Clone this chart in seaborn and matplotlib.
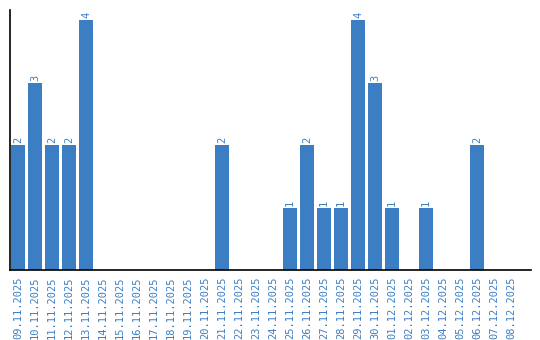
import matplotlib
matplotlib.use("Agg")
import matplotlib.pyplot as plt
import seaborn as sns
import pandas as pd

dates = ["09.11.2025", "10.11.2025", "11.11.2025", "12.11.2025", "13.11.2025",
         "14.11.2025", "15.11.2025", "16.11.2025", "17.11.2025", "18.11.2025",
         "19.11.2025", "20.11.2025", "21.11.2025", "22.11.2025", "23.11.2025",
         "24.11.2025", "25.11.2025", "26.11.2025", "27.11.2025", "28.11.2025",
         "29.11.2025", "30.11.2025", "01.12.2025", "02.12.2025", "03.12.2025",
         "04.12.2025", "05.12.2025", "06.12.2025", "07.12.2025", "08.12.2025"]
counts = [2, 3, 2, 2, 4,
          0, 0, 0, 0, 0,
          0, 0, 2, 0, 0,
          0, 1, 2, 1, 1,
          4, 3, 1, 0, 1,
          0, 0, 2, 0, 0]

df = pd.DataFrame({"date": dates, "count": counts})

sns.set_style("white")
plt.rcParams["font.family"] = ["DejaVu Sans Mono", "DejaVu Sans"]

BLUE = "#3b7ec4"
fig = plt.figure(figsize=(5.4, 3.4), dpi=100)
ax = fig.add_axes([10/540, 1 - 270/340, 521/540, 260/340])

sns.barplot(data=df, x="date", y="count", color=BLUE, width=0.82,
            saturation=1, ax=ax, edgecolor="none")

for i, v in enumerate(counts):
    if v > 0:
        ax.text(i, v + 0.03, str(v), rotation=90, ha="center", va="bottom",
                color=BLUE, fontsize=7.5)

ax.set_xlim(-0.47, 30.18)
ax.set_ylim(0, 4.16)
ax.set_xlabel("")
ax.set_ylabel("")
ax.set_yticks([])
ax.tick_params(axis="x", length=0, pad=5, labelsize=7.5, labelcolor=BLUE,
               rotation=90)
for lab in ax.get_xticklabels():
    lab.set_va("top")
for s in ["top", "right"]:
    ax.spines[s].set_visible(False)
for s in ["left", "bottom"]:
    ax.spines[s].set_color("black")
    ax.spines[s].set_linewidth(1.2)

fig.savefig("out.png", dpi=100)
